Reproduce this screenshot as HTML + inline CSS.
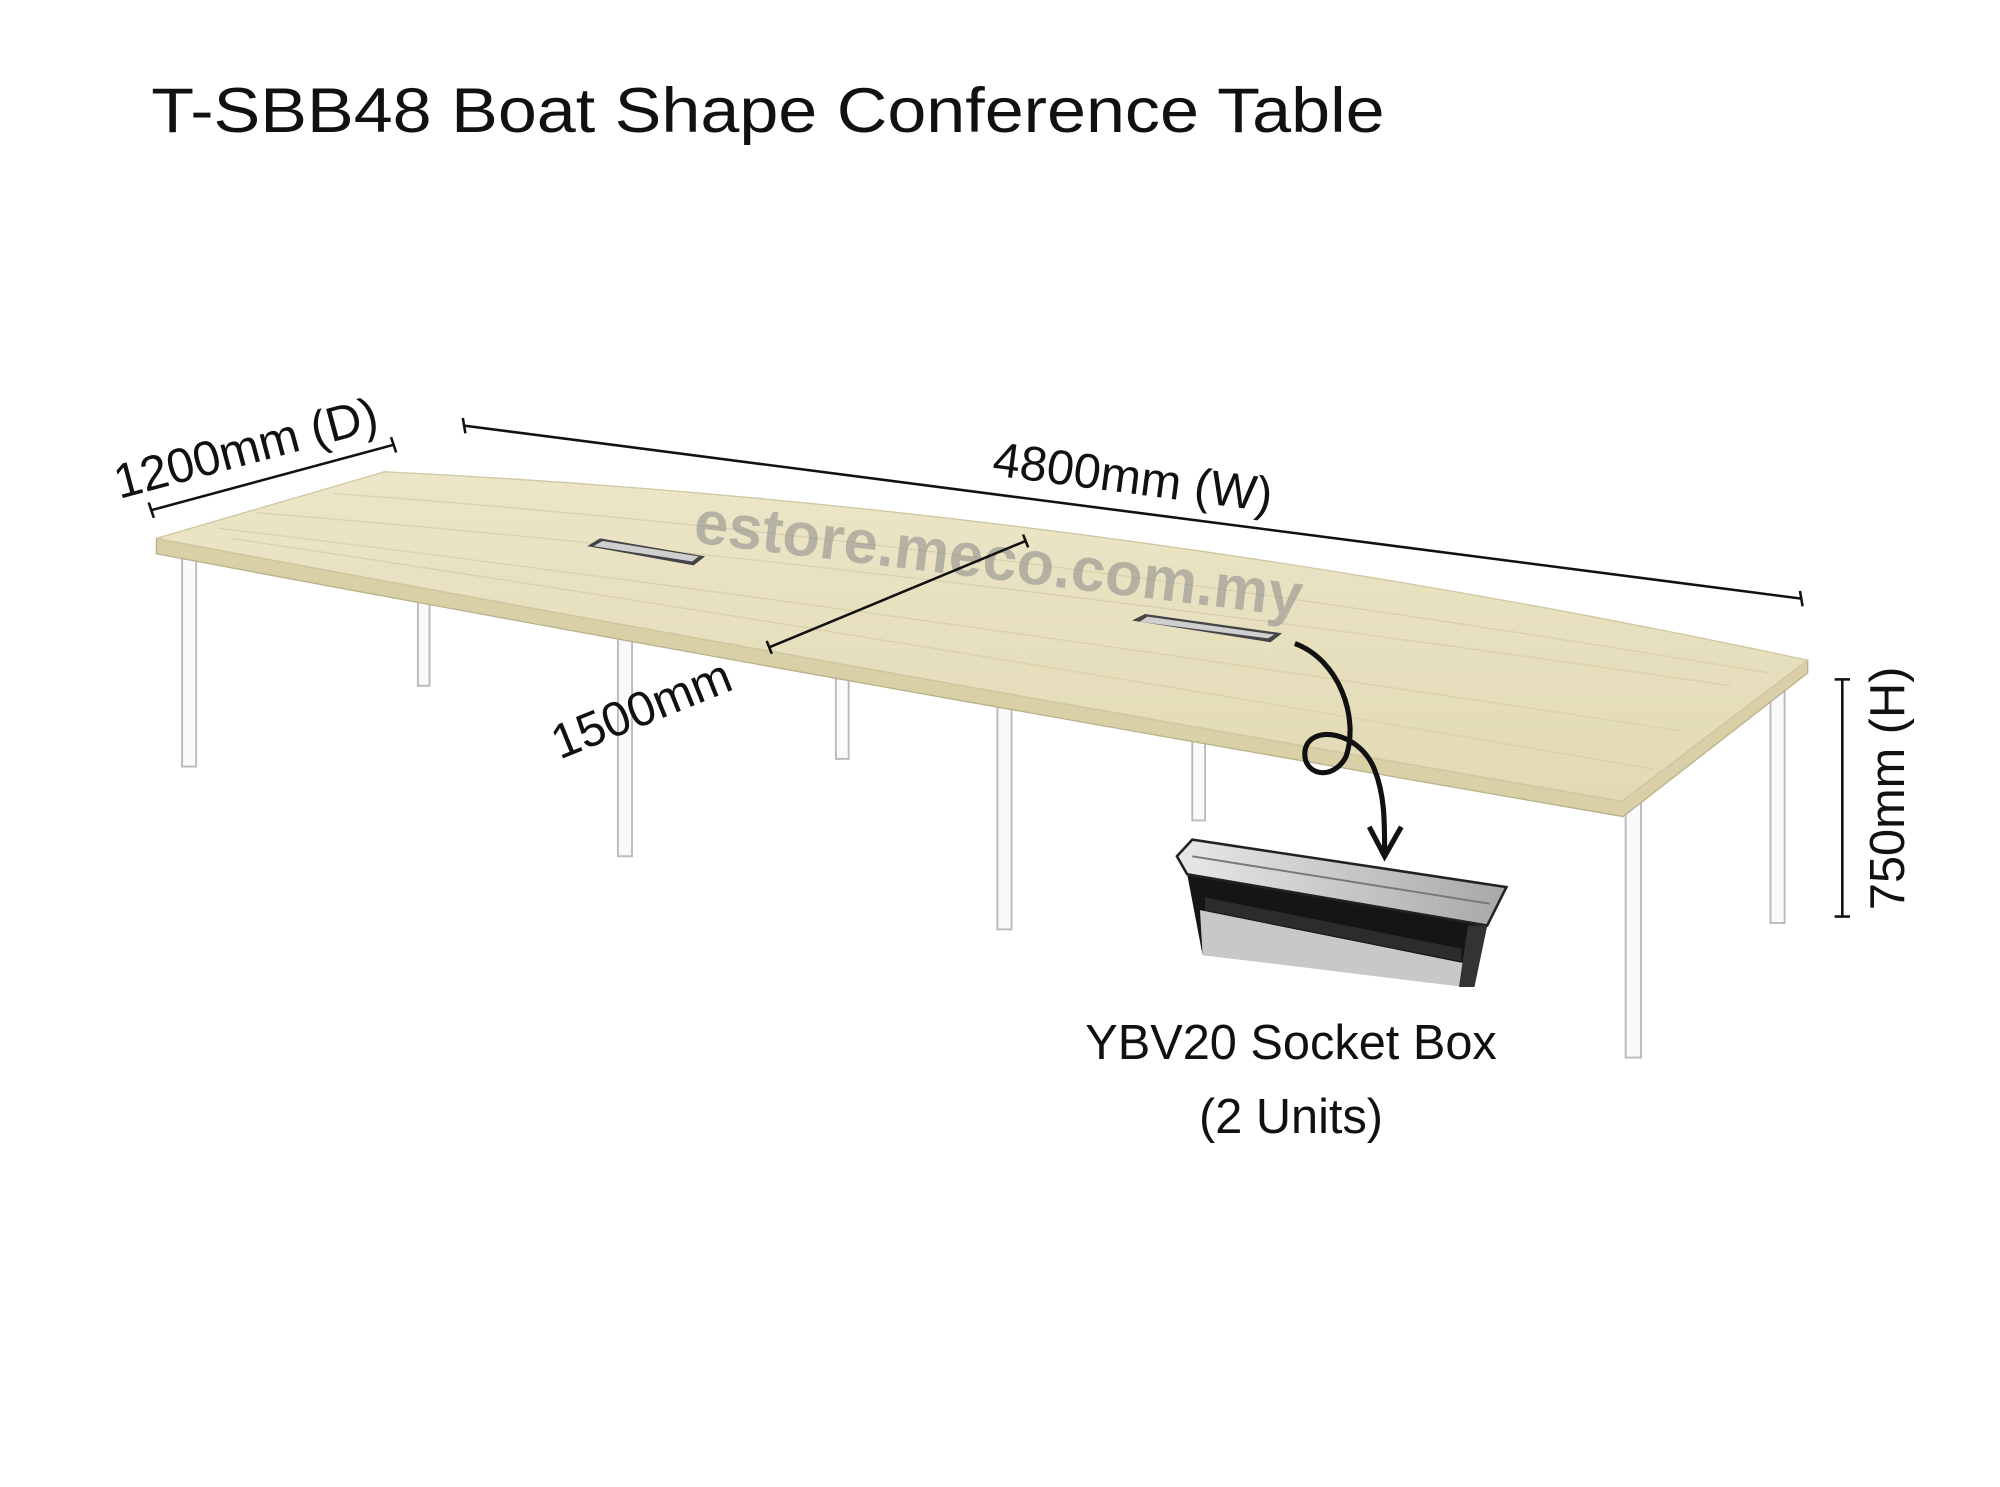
<!DOCTYPE html>
<html><head><meta charset="utf-8"><style>
html,body{margin:0;padding:0;background:#fff;}
svg{display:block;}
text{font-family:"Liberation Sans",sans-serif;fill:#111;}
</style></head><body>
<svg width="2000" height="1487" viewBox="0 0 1560 1160" preserveAspectRatio="none" xmlns="http://www.w3.org/2000/svg">
<defs>
<linearGradient id="wood" x1="0" y1="0" x2="0" y2="1">
<stop offset="0" stop-color="#ece6c8"/><stop offset="1" stop-color="#e2dab5"/>
</linearGradient>
<linearGradient id="alu" x1="0" y1="0" x2="1" y2="0">
<stop offset="0" stop-color="#e8e8e8"/><stop offset="1" stop-color="#a8a8a8"/>
</linearGradient>
</defs>
<text x="118" y="103" font-size="49" textLength="962" lengthAdjust="spacingAndGlyphs">T-SBB48 Boat Shape Conference Table</text>

<!-- legs -->
<g fill="#fafafa" stroke="#bbb" stroke-width="1.5">
<rect x="326" y="440" width="9" height="95"/>
<rect x="652" y="500" width="10" height="92"/>
<rect x="930" y="540" width="10" height="100"/>
<rect x="1381" y="525" width="11" height="195"/>
<rect x="142" y="428" width="11" height="170"/>
<rect x="482" y="470" width="11" height="198"/>
<rect x="778" y="530" width="11" height="195"/>
<rect x="1268" y="615" width="12" height="210"/>
</g>

<!-- table top thickness -->
<path d="M122,420 Q600,510 1265,625 L1410,515 L1410,525 L1266,637 Q600,522 122,432 Z" fill="#d9d0a8" stroke="#b9b08a" stroke-width="1"/>
<!-- table top -->
<path d="M122,420 L300,368 Q850,395 1410,515 L1265,625 Q600,510 122,420 Z" fill="url(#wood)" stroke="#cfc7a0" stroke-width="1"/>
<g stroke="#d6cda5" stroke-width="1" fill="none" opacity="0.8">
<path d="M200,400 Q700,440 1350,535"/><path d="M260,385 Q750,420 1380,525"/>
<path d="M170,412 Q650,470 1310,570"/><path d="M180,420 Q650,490 1290,600"/>
</g>

<!-- grommets -->
<path d="M458,426 L468,420 L550,434 L541,441 Z" fill="#444"/>
<path d="M463,426 L470,422 L545,434 L540,438 Z" fill="#cfcfcf"/>
<path d="M883,484 L893,479 L1000,494 L991,501 Z" fill="#444"/>
<path d="M889,485 L895,481 L994,495 L989,498 Z" fill="#cfcfcf"/>

<!-- watermark -->
<text x="540" y="423" font-size="48" font-weight="bold" style="fill:#8a8a8a" opacity="0.55" transform="rotate(7 540 423)">estore.meco.com.my</text>

<!-- dimension lines -->
<g stroke="#111" stroke-width="2" fill="none">
<line x1="118" y1="398" x2="307" y2="347"/><line x1="116" y1="392" x2="120" y2="404"/><line x1="305" y1="341" x2="309" y2="353"/>
<line x1="362" y1="332" x2="1405" y2="467"/><line x1="361" y1="326" x2="363" y2="338"/><line x1="1404" y1="461" x2="1406" y2="473"/>
<line x1="600" y1="505" x2="800" y2="422"/><line x1="598" y1="500" x2="602" y2="510"/><line x1="798" y1="417" x2="802" y2="427"/>
<line x1="1437" y1="530" x2="1437" y2="715"/><line x1="1431" y1="530" x2="1443" y2="530"/><line x1="1431" y1="715" x2="1443" y2="715"/>
</g>
<text x="195" y="362" font-size="38" text-anchor="middle" transform="rotate(-15 195 362)">1200mm (D)</text>
<text x="882" y="385" font-size="38" text-anchor="middle" transform="rotate(7.5 882 385)">4800mm (W)</text>
<text x="505" y="565" font-size="38" text-anchor="middle" transform="rotate(-22 505 565)">1500mm</text>
<text x="1485" y="615" font-size="38" text-anchor="middle" transform="rotate(-90 1485 615)">750mm (H)</text>

<!-- curly arrow -->
<path d="M1010,502 C1045,515 1060,560 1050,590 C1040,610 1015,605 1018,585 C1022,565 1060,570 1072,600 C1080,620 1080,640 1080,665" fill="none" stroke="#111" stroke-width="4"/>
<path d="M1068,645 L1080,668 L1093,645" fill="none" stroke="#111" stroke-width="4"/>

<!-- socket box -->
<path d="M926,682 L1160,722 L1150,770 L938,745 Z" fill="#151515"/>
<path d="M936,710 L1145,752 L1142,770 L938,745 Z" fill="#c8c8c8"/>
<path d="M940,700 L1140,740 L1140,750 L940,710 Z" fill="#2c2c2c"/>
<path d="M918,668 L930,655 L1175,692 L1160,722 L926,682 Z" fill="url(#alu)" stroke="#222" stroke-width="2"/>
<path d="M930,668 L1162,705" stroke="#777" stroke-width="1.5"/>
<path d="M1145,722 L1160,722 L1150,770 L1138,770 Z" fill="#333"/>

<text x="1007" y="826" font-size="38" text-anchor="middle">YBV20 Socket Box</text>
<text x="1007" y="884" font-size="38" text-anchor="middle">(2 Units)</text>
</svg>
</body></html>
